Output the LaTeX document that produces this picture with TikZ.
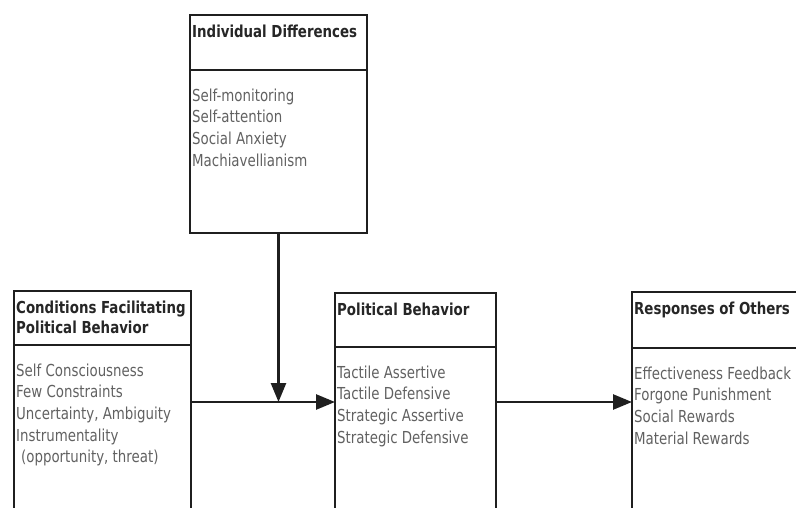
\documentclass[tikz,border=0pt]{standalone}
\usepackage{fontspec}
\newfontfamily\boxfont[FakeStretch=0.81]{DejaVu Sans}
\usetikzlibrary{arrows.meta,positioning}

\begin{document}
\begin{tikzpicture}[x=1pt,y=-1pt,
    frame/.style={draw=black!88,line width=2.6pt,inner sep=0pt,outer sep=0pt,anchor=north west},
    headtext/.style={font=\boxfont\fontsize{16.5pt}{20pt}\selectfont\bfseries,text=black!85,align=left,anchor=north west,inner sep=0pt},
    itemtext/.style={font=\boxfont\fontsize{16.5pt}{21.6pt}\selectfont,text=black!62,align=left,anchor=north west,inner sep=0pt},
    link/.style={line width=2.6pt,draw=black!88,-{Triangle[length=19pt,width=15pt]}}]
  \useasboundingbox (0,0) rectangle (796,508);
  \clip (0,0) rectangle (796,508);
  % boxes
  \node[frame,minimum width=177pt,minimum height=55pt] (idhead) at (190,15) {};
  \node[frame,minimum width=177pt,minimum height=163pt,below=0pt of idhead] (idbody) {};
  \node[frame,minimum width=177pt,minimum height=54pt] (cfhead) at (14,291) {};
  \node[frame,minimum width=177pt,minimum height=200pt,below=0pt of cfhead] (cfbody) {};
  \node[frame,minimum width=161pt,minimum height=54pt] (pbhead) at (335,293) {};
  \node[frame,minimum width=161pt,minimum height=200pt,below=0pt of pbhead] (pbbody) {};
  \node[frame,minimum width=208pt,minimum height=56pt] (rohead) at (632,292) {};
  \node[frame,minimum width=208pt,minimum height=200pt,below=0pt of rohead] (robody) {};
  % texts
  \node[headtext] (idtitle) at ([xshift=2pt,yshift=-9.5pt]idhead.north west) {Individual Differences};
  \node[itemtext] (iditems) at ([xshift=2pt,yshift=-18.5pt]idbody.north west) {Self-monitoring\\Self-attention\\Social Anxiety\\Machiavellianism};
  \node[headtext] (cftitle) at ([xshift=2pt,yshift=-9.5pt]cfhead.north west) {Conditions Facilitating\\Political Behavior};
  \node[itemtext] (cfitems) at ([xshift=2pt,yshift=-18.5pt]cfbody.north west) {Self Consciousness\\Few Constraints\\Uncertainty, Ambiguity\\Instrumentality\\\hspace*{0.3em}(opportunity, threat)};
  \node[headtext] (pbtitle) at ([xshift=2pt,yshift=-9.5pt]pbhead.north west) {Political Behavior};
  \node[itemtext] (pbitems) at ([xshift=2pt,yshift=-18.5pt]pbbody.north west) {Tactile Assertive\\Tactile Defensive\\Strategic Assertive\\Strategic Defensive};
  \node[headtext] (rotitle) at ([xshift=2pt,yshift=-9.5pt]rohead.north west) {Responses of Others};
  \node[itemtext] (roitems) at ([xshift=2pt,yshift=-18.5pt]robody.north west) {Effectiveness Feedback\\Forgone Punishment\\Social Rewards\\Material Rewards};
  % connectors
  \coordinate (meet) at (278.5,402);
  \draw[link] (idbody.south) -- (meet);
  \draw[link] (cfbody.east |- meet) -- (pbbody.west |- meet);
  \draw[link] (pbbody.east |- meet) -- (robody.west |- meet);
\end{tikzpicture}
\end{document}
